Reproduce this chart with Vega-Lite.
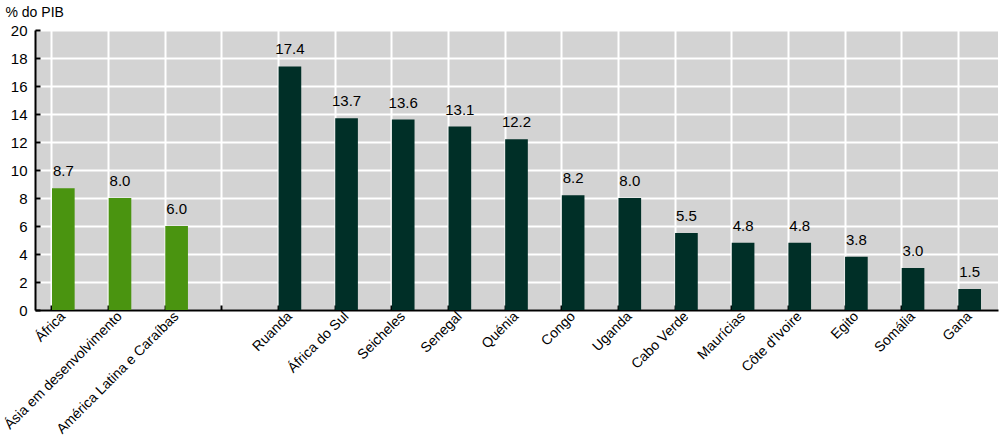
{
  "$schema": "https://vega.github.io/schema/vega-lite/v6.json",
  "width": 963,
  "height": 280,
  "autosize": "none",
  "padding": {"left": 35, "top": 30, "right": 2, "bottom": 136},
  "background": "white",
  "config": {
    "view": {"fill": "#D3D3D3", "stroke": null},
    "font": "Liberation Sans"
  },
  "data": {
    "values": [
      {"cat": "África", "value": 8.7, "group": "region"},
      {"cat": "Ásia em desenvolvimento", "value": 8.0, "group": "region"},
      {"cat": "América Latina e Caraíbas", "value": 6.0, "group": "region"},
      {"cat": " ", "value": null, "group": "blank"},
      {"cat": "Ruanda", "value": 17.4, "group": "country"},
      {"cat": "África do Sul", "value": 13.7, "group": "country"},
      {"cat": "Seicheles", "value": 13.6, "group": "country"},
      {"cat": "Senegal", "value": 13.1, "group": "country"},
      {"cat": "Quénia", "value": 12.2, "group": "country"},
      {"cat": "Congo", "value": 8.2, "group": "country"},
      {"cat": "Uganda", "value": 8.0, "group": "country"},
      {"cat": "Cabo Verde", "value": 5.5, "group": "country"},
      {"cat": "Maurícias", "value": 4.8, "group": "country"},
      {"cat": "Côte d'Ivoire", "value": 4.8, "group": "country"},
      {"cat": "Egito", "value": 3.8, "group": "country"},
      {"cat": "Somália", "value": 3.0, "group": "country"},
      {"cat": "Gana", "value": 1.5, "group": "country"}
    ]
  },
  "transform": [{"filter": "datum.value != null"}],
  "encoding": {
    "x": {
      "field": "cat",
      "type": "nominal",
      "sort": null,
      "scale": {
        "domain": ["África", "Ásia em desenvolvimento", "América Latina e Caraíbas", " ", "Ruanda", "África do Sul", "Seicheles", "Senegal", "Quénia", "Congo", "Uganda", "Cabo Verde", "Maurícias", "Côte d'Ivoire", "Egito", "Somália", "Gana"],
        "paddingInner": 0.6,
        "paddingOuter": 0.3
      },
      "axis": {
        "title": null,
        "labelAngle": -45,
        "labelAlign": "right",
        "labelBaseline": "top",
        "labelFontSize": 14,
        "labelLimit": 0,
        "labelColor": "#000000",
        "labelPadding": 4,
        "labelOffset": -5,
        "bandPosition": 0,
        "grid": true,
        "gridColor": "white",
        "gridWidth": 2,
        "gridOpacity": 1,
        "tickSize": -5,
        "tickColor": "#000000",
        "tickWidth": 2,
        "domainColor": "#000000",
        "domainWidth": 2
      }
    },
    "y": {
      "field": "value",
      "type": "quantitative",
      "scale": {"domain": [0, 20], "nice": false},
      "axis": {
        "title": "% do PIB",
        "titleAngle": 0,
        "titleAlign": "left",
        "titleBaseline": "middle",
        "titleX": -30,
        "titleY": -18,
        "titleFontSize": 14,
        "titleFontWeight": "normal",
        "titleColor": "#000000",
        "values": [0, 2, 4, 6, 8, 10, 12, 14, 16, 18, 20],
        "labelFontSize": 15,
        "labelColor": "#000000",
        "labelPadding": 13,
        "grid": true,
        "gridColor": "white",
        "gridWidth": 2,
        "gridOpacity": 1,
        "tickSize": -5,
        "tickColor": "#000000",
        "tickWidth": 2,
        "domainColor": "#000000",
        "domainWidth": 2
      }
    }
  },
  "layer": [
    {
      "mark": {"type": "bar"},
      "encoding": {
        "color": {
          "field": "group",
          "type": "nominal",
          "scale": {"domain": ["region", "country"], "range": ["#4A9410", "#002F27"]},
          "legend": null
        }
      }
    },
    {
      "mark": {"type": "text", "baseline": "bottom", "dy": -9, "fontSize": 15, "color": "#000000"},
      "encoding": {
        "text": {"field": "value", "type": "quantitative", "format": ".1f"}
      }
    }
  ]
}
